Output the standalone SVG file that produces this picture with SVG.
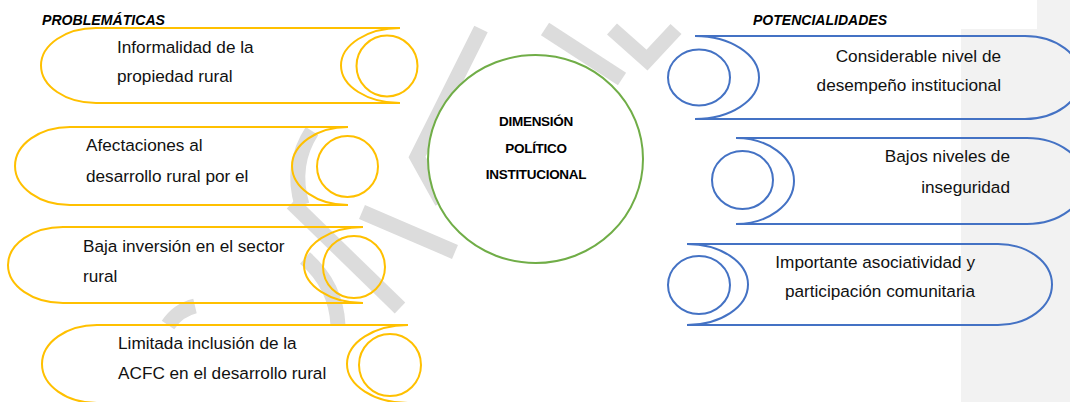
<svg xmlns="http://www.w3.org/2000/svg" width="1070" height="402" viewBox="0 0 1070 402">
<style>
.y{fill:none;stroke:#FFC000;stroke-width:2}
.b{fill:none;stroke:#4472C4;stroke-width:2}
.w{fill:none;stroke:#dcdcdc;stroke-width:15}
.t{font-family:"Liberation Sans",Arial,sans-serif;font-size:17.2px;fill:#111}
.h{font-family:"Liberation Sans",Arial,sans-serif;font-size:14.5px;font-weight:bold;font-style:italic;fill:#000}
.c{font-family:"Liberation Sans",Arial,sans-serif;font-size:13.5px;font-weight:bold;fill:#000;text-anchor:middle;letter-spacing:-0.3px}
.e{text-anchor:end}
</style>
<rect width="1070" height="402" fill="#fff"/>
<rect x="961" y="29" width="109" height="373" fill="#f2f2f2"/>
<rect x="1037" y="0" width="33" height="29" fill="#f2f2f2"/>
<g id="watermark">
<path class="w" d="M481,29 L417,157 L442,202"/>
<path class="w" d="M292,203 L400,308"/>
<path class="w" d="M362,212 L455,252"/>
<path class="w" d="M545,29 L622,79" stroke-width="18"/>
<path class="w" d="M612,29 L647,60 L676,29"/>
<path class="w" d="M305,258 Q336,285 338,325"/>
<path class="w" d="M168,325 Q178,310 195,306"/>
<path class="w" d="M312,131 Q290,165 302,205"/>
</g>
<text class="h" x="42" y="25" textLength="123" lengthAdjust="spacingAndGlyphs">PROBLEMÁTICAS</text>
<text class="h" x="753" y="25" textLength="134" lengthAdjust="spacingAndGlyphs">POTENCIALIDADES</text>
<g id="p1">
<path class="y" d="M400,28 H96 A55,37.5 0 0 0 96,103 H400"/>
<path class="y" d="M400,28 A59,37.5 0 0 0 400,103"/>
<circle class="y" cx="387" cy="66" r="30.5"/>
<text class="t" x="117" y="52.5">Informalidad de la</text>
<text class="t" x="117" y="82">propiedad rural</text>
</g>
<g id="p2">
<path class="y" d="M348,127 H70 A55,39 0 0 0 70,205 H348"/>
<path class="y" d="M348,127 A56,39 0 0 0 348,205"/>
<circle class="y" cx="347.5" cy="166.5" r="30.5"/>
<text class="t" x="86" y="151">Afectaciones al</text>
<text class="t" x="86" y="182">desarrollo rural por el</text>
</g>
<g id="p3">
<path class="y" d="M363,227 H63 A55,38 0 0 0 63,303 H363"/>
<path class="y" d="M363,227 A59,38 0 0 0 363,303"/>
<circle class="y" cx="354" cy="267" r="31"/>
<text class="t" x="83" y="252">Baja inversión en el sector</text>
<text class="t" x="83" y="282">rural</text>
</g>
<g id="p4">
<path class="y" d="M408,325 H97 A55,39 0 0 0 97,403 H408"/>
<path class="y" d="M408,325 A61,39 0 0 0 408,403"/>
<circle class="y" cx="390" cy="365" r="31"/>
<text class="t" x="118" y="349">Limitada inclusión de la</text>
<text class="t" x="118" y="379">ACFC en el desarrollo rural</text>
</g>
<g id="center">
<ellipse cx="535.5" cy="159" rx="107.5" ry="104" fill="#fff" stroke="#70AD47" stroke-width="2"/>
<text class="c" x="536" y="126">DIMENSIÓN</text>
<text class="c" x="536" y="153">POLÍTICO</text>
<text class="c" x="536" y="179">INSTITUCIONAL</text>
</g>
<g id="r1">
<path class="b" d="M695,36 H1025 A56,41.5 0 0 1 1025,119 H695"/>
<path class="b" d="M695,36 A64,41.5 0 0 1 695,119"/>
<ellipse class="b" cx="699" cy="77.5" rx="31" ry="28"/>
<text class="t e" x="1001" y="62">Considerable nivel de</text>
<text class="t e" x="1001" y="91">desempeño institucional</text>
</g>
<g id="r2">
<path class="b" d="M736,138 H1027 A58,43 0 0 1 1027,224 H736"/>
<path class="b" d="M736,138 A58,43 0 0 1 736,224"/>
<ellipse class="b" cx="742.5" cy="180" rx="30.5" ry="29"/>
<text class="t e" x="1010" y="162">Bajos niveles de</text>
<text class="t e" x="1010" y="193">inseguridad</text>
</g>
<g id="r3">
<path class="b" d="M687,244 H998 A54,40.5 0 0 1 998,325 H687"/>
<path class="b" d="M687,244 A61,40.5 0 0 1 687,325"/>
<ellipse class="b" cx="699" cy="285" rx="31" ry="29"/>
<text class="t e" x="975" y="268">Importante asociatividad y</text>
<text class="t e" x="975" y="297">participación comunitaria</text>
</g>
<g id="connectors"/>
</svg>
